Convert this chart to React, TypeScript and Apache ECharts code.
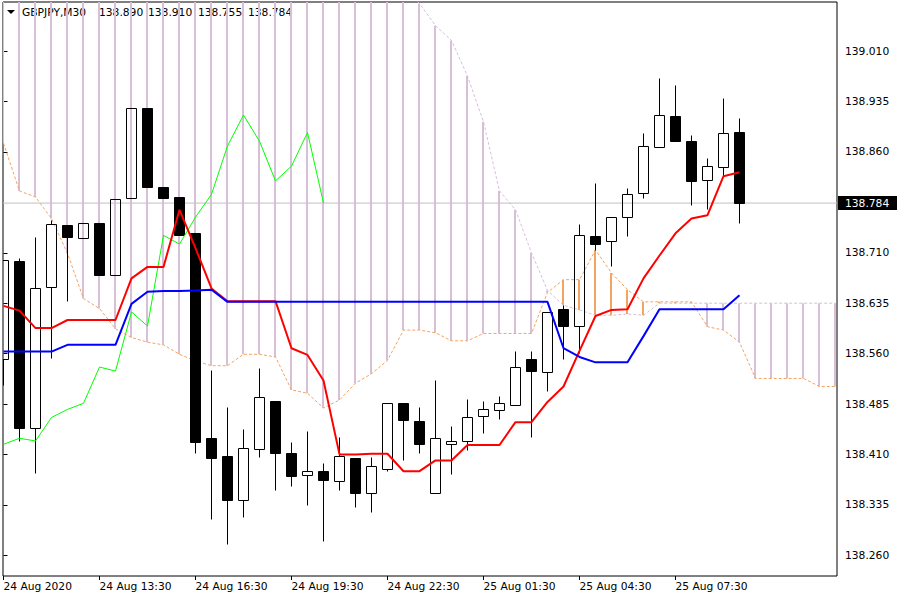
import React, { useEffect, useRef } from "react";
import * as echarts from "echarts";

const symbolTitle = "GBPJPY,M30";
const timeLabels = ["24 Aug 2020", "24 Aug 13:30", "24 Aug 16:30", "24 Aug 19:30", "24 Aug 22:30", "25 Aug 01:30", "25 Aug 04:30", "25 Aug 07:30"];
const timeLabelBars = [0, 6, 12, 18, 24, 30, 36, 42];
const priceTicks = [138.26, 138.335, 138.41, 138.485, 138.56, 138.635, 138.71, 138.86, 138.935, 139.01];

const candleOpen = [138.552, 138.698, 138.450, 138.659, 138.751, 138.732, 138.755, 138.677, 138.791, 138.925, 138.808, 138.793, 138.739, 138.434, 138.407, 138.342, 138.418, 138.489, 138.412, 138.379, 138.385, 138.370, 138.404, 138.352, 138.389, 138.486, 138.459, 138.352, 138.425, 138.430, 138.467, 138.476, 138.483, 138.552, 138.532, 138.626, 138.601, 138.735, 138.727, 138.763, 138.799, 138.867, 138.913, 138.876, 138.818, 138.837, 138.890];
const candleHigh = [138.700, 138.702, 138.733, 138.759, 138.751, 138.755, 138.755, 138.790, 138.925, 138.925, 138.808, 138.793, 138.739, 138.535, 138.480, 138.448, 138.538, 138.489, 138.428, 138.445, 138.397, 138.436, 138.404, 138.406, 138.486, 138.486, 138.480, 138.520, 138.453, 138.492, 138.489, 138.497, 138.564, 138.564, 138.622, 138.632, 138.753, 138.814, 138.763, 138.806, 138.888, 138.970, 138.959, 138.886, 138.851, 138.940, 138.910];
const candleLow = [138.514, 138.430, 138.382, 138.553, 138.638, 138.732, 138.677, 138.677, 138.791, 138.808, 138.791, 138.736, 138.412, 138.314, 138.276, 138.317, 138.406, 138.357, 138.363, 138.334, 138.281, 138.357, 138.331, 138.325, 138.385, 138.401, 138.412, 138.352, 138.381, 138.416, 138.442, 138.462, 138.483, 138.436, 138.504, 138.552, 138.561, 138.714, 138.690, 138.735, 138.791, 138.867, 138.876, 138.781, 138.775, 138.825, 138.755];
const candleClose = [138.700, 138.449, 138.657, 138.753, 138.733, 138.755, 138.677, 138.790, 138.925, 138.808, 138.791, 138.736, 138.428, 138.404, 138.342, 138.419, 138.495, 138.412, 138.378, 138.386, 138.372, 138.407, 138.352, 138.392, 138.486, 138.461, 138.425, 138.434, 138.430, 138.465, 138.477, 138.486, 138.540, 138.534, 138.622, 138.601, 138.736, 138.723, 138.763, 138.797, 138.869, 138.915, 138.876, 138.817, 138.839, 138.889, 138.784];

const tenkan = [138.631, 138.624, 138.598, 138.598, 138.610, 138.610, 138.610, 138.610, 138.672, 138.689, 138.689, 138.774, 138.717, 138.657, 138.638, 138.638, 138.638, 138.638, 138.568, 138.558, 138.520, 138.410, 138.410, 138.411, 138.411, 138.385, 138.385, 138.401, 138.401, 138.424, 138.424, 138.424, 138.458, 138.458, 138.488, 138.511, 138.564, 138.616, 138.625, 138.626, 138.672, 138.706, 138.739, 138.761, 138.766, 138.824, 138.830];
const kijun = [138.563, 138.563, 138.563, 138.563, 138.573, 138.573, 138.573, 138.573, 138.634, 138.652, 138.653, 138.653, 138.654, 138.655, 138.637, 138.637, 138.637, 138.637, 138.637, 138.637, 138.637, 138.637, 138.637, 138.637, 138.637, 138.637, 138.637, 138.637, 138.637, 138.637, 138.637, 138.637, 138.637, 138.637, 138.637, 138.568, 138.555, 138.547, 138.547, 138.547, 138.586, 138.626, 138.626, 138.626, 138.626, 138.626, 138.647];
const chikou = [138.425, 138.434, 138.430, 138.465, 138.477, 138.486, 138.540, 138.534, 138.622, 138.601, 138.736, 138.723, 138.763, 138.797, 138.869, 138.915, 138.876, 138.817, 138.839, 138.889, 138.784];
const senkouA = [138.873, 138.802, 138.793, 138.761, 138.709, 138.642, 138.627, 138.597, 138.584, 138.577, 138.573, 138.559, 138.549, 138.542, 138.542, 138.559, 138.559, 138.555, 138.506, 138.501, 138.479, 138.491, 138.516, 138.530, 138.550, 138.595, 138.595, 138.591, 138.579, 138.579, 138.590, 138.590, 138.590, 138.590, 138.651, 138.670, 138.670, 138.714, 138.680, 138.655, 138.637, 138.637, 138.637, 138.637, 138.600, 138.595, 138.577, 138.523, 138.523, 138.523, 138.523, 138.511, 138.511];
const senkouB = [139.105, 139.105, 139.105, 139.105, 139.105, 139.105, 139.105, 139.105, 139.105, 139.105, 139.105, 139.105, 139.105, 139.105, 139.105, 139.105, 139.105, 139.105, 139.105, 139.105, 139.105, 139.105, 139.105, 139.105, 139.105, 139.105, 139.081, 139.048, 139.026, 138.973, 138.905, 138.802, 138.774, 138.710, 138.654, 138.632, 138.625, 138.617, 138.617, 138.619, 138.617, 138.635, 138.635, 138.635, 138.635, 138.635, 138.635, 138.635, 138.635, 138.635, 138.635, 138.635, 138.635];

const FONT = '"DejaVu Sans", Verdana, sans-serif';
const FS = 10.7;

export default function App() {
  const ref = useRef<HTMLDivElement>(null);

  useEffect(() => {
    if (!ref.current) return;
    const chart = echarts.init(ref.current, null, { renderer: "svg" });

    const X_MIN = -0.03125;
    const X_MAX = 52.09375;
    const Y_MAX = 139.083214;
    const Y_MIN = 138.229048;

    const last = candleClose.length - 1;
    const lastClose = candleClose[last];

    const candleData = candleOpen.map((o, i) => [i, o, candleHigh[i], candleLow[i], candleClose[i]]);
    const cloudData = senkouA.map((a, i) => [i, a, senkouB[i]]);
    const toXY = (arr: number[]) => arr.map((v, i) => [i, v]);

    const headerValues = [candleOpen[last], candleHigh[last], candleLow[last], candleClose[last]];
    const headerX = [99, 148, 198, 248];

    const titleEls: any[] = [
      { id: "tri", type: "polygon", shape: { points: [[7, 10], [15, 10], [11, 14]] }, style: { fill: "#000" }, z: 1 },
      { id: "sym", type: "text", x: 22, y: 12, style: { text: symbolTitle, fill: "#000", font: `${FS}px ${FONT}`, verticalAlign: "middle", textVerticalAlign: "middle" }, z: 1 },
      ...headerValues.map((v, k) => ({
        id: "hv" + k, type: "text", x: headerX[k], y: 12,
        style: { text: v.toFixed(3), fill: "#000", font: `${FS}px ${FONT}`, verticalAlign: "middle", textVerticalAlign: "middle" }, z: 1,
      })),
    ];

    const option: any = {
      animation: false,
      backgroundColor: "#ffffff",
      textStyle: { fontFamily: FONT },
      grid: { left: 3, top: 2, width: 834, height: 574, show: true, borderColor: "#000", borderWidth: 1, backgroundColor: "transparent" },
      xAxis: {
        type: "value", min: X_MIN, max: X_MAX,
        splitLine: { show: false },
        axisLine: { show: false },
        axisTick: { show: true, customValues: timeLabelBars, length: 4, lineStyle: { color: "#000" } },
        axisLabel: {
          customValues: timeLabelBars,
          formatter: (v: number) => { const k = timeLabelBars.indexOf(Math.round(v)); return k >= 0 ? timeLabels[k] : ""; },
          align: "left", margin: 5, color: "#000", fontSize: FS, fontFamily: FONT,
        },
      },
      yAxis: {
        type: "value", position: "right", min: Y_MIN, max: Y_MAX,
        splitLine: { show: false },
        axisLine: { show: false },
        axisTick: { show: true, customValues: priceTicks, length: 4, lineStyle: { color: "#000" } },
        axisLabel: {
          customValues: priceTicks,
          formatter: (v: number) => v.toFixed(3),
          margin: 8, color: "#000", fontSize: FS, fontFamily: FONT,
        },
      },
      graphic: { elements: titleEls },
      series: [
        {
          type: "custom", name: "cloud", z: 2, silent: true, clip: true,
          data: cloudData,
          encode: { x: 0, y: [1, 2] },
          renderItem: (params: any, api: any) => {
            const i = api.value(0), a = api.value(1), b = api.value(2);
            const pa = api.coord([i, a]);
            const pb = api.coord([i, b]);
            const cs = params.coordSys;
            const y1 = Math.max(Math.min(pa[1], pb[1]), cs.y);
            const y2 = Math.min(Math.max(pa[1], pb[1]), cs.y + cs.height);
            if (y2 <= y1) return null;
            const x = Math.floor(pa[0]) - 1;
            return { type: "rect", shape: { x, y: y1, width: 2, height: y2 - y1 }, style: { fill: a > b ? "#F4A460" : "#D8BFD8" } };
          },
        },
        {
          type: "line", name: "SpanA", z: 3, silent: true, symbol: "none", showSymbol: false,
          data: toXY(senkouA), lineStyle: { color: "#F4A460", width: 1, type: [3, 2] },
        },
        {
          type: "line", name: "SpanB", z: 3, silent: true, symbol: "none", showSymbol: false,
          data: toXY(senkouB), lineStyle: { color: "#D8BFD8", width: 1, type: [3, 2] },
        },
        {
          type: "line", name: "bid", z: 2, silent: true, symbol: "none", showSymbol: false,
          data: [[X_MIN, lastClose], [X_MAX, lastClose]], lineStyle: { color: "#C0C0C0", width: 1 },
        },
        {
          type: "custom", name: "candles", z: 5, silent: true, clip: true,
          data: candleData,
          encode: { x: 0, y: [1, 2, 3, 4] },
          renderItem: (params: any, api: any) => {
            const i = api.value(0);
            const o = api.value(1), h = api.value(2), l = api.value(3), c = api.value(4);
            const po = api.coord([i, o]);
            const pc = api.coord([i, c]);
            const ph = api.coord([i, h]);
            const pl = api.coord([i, l]);
            const x = Math.floor(po[0]) + 0.5;
            const top = Math.round(Math.min(po[1], pc[1])) + 0.5;
            const bot = Math.round(Math.max(po[1], pc[1])) + 0.5;
            const yh = Math.round(ph[1]) + 0.5;
            const yl = Math.round(pl[1]) + 0.5;
            const bull = c >= o;
            const children: any[] = [];
            if (yh < top) children.push({ type: "line", shape: { x1: x, y1: yh, x2: x, y2: top }, style: { stroke: "#000", lineWidth: 1 } });
            if (yl > bot) children.push({ type: "line", shape: { x1: x, y1: bot, x2: x, y2: yl }, style: { stroke: "#000", lineWidth: 1 } });
            children.push({
              type: "rect",
              shape: { x: x - 5, y: top, width: 10, height: Math.max(bot - top, 1) },
              style: { fill: bull ? "none" : "#000", stroke: "#000", lineWidth: 1 },
            });
            return { type: "group", children };
          },
        },
        {
          type: "line", name: "Chikou", z: 6, silent: true, symbol: "none", showSymbol: false,
          data: toXY(chikou), lineStyle: { color: "#00FF00", width: 1 },
        },
        {
          type: "line", name: "Tenkan", z: 6, silent: true, symbol: "none", showSymbol: false,
          data: toXY(tenkan), lineStyle: { color: "#FF0000", width: 2 },
        },
        {
          type: "line", name: "Kijun", z: 7, silent: true, symbol: "none", showSymbol: false,
          data: toXY(kijun), lineStyle: { color: "#0000FF", width: 2 },
        },
      ],
    };

    chart.setOption(option);

    const yPix = (chart.convertToPixel({ gridIndex: 0 } as any, [0, lastClose]) as number[])[1];
    chart.setOption({
      graphic: {
        elements: [
          ...titleEls,
          { id: "plrect", type: "rect", shape: { x: 838, y: Math.round(yPix) - 7, width: 59, height: 14 }, style: { fill: "#000" }, z: 100 },
          {
            id: "pltext", type: "text", x: 845, y: Math.round(yPix),
            style: { text: lastClose.toFixed(3), fill: "#fff", font: `${FS}px ${FONT}`, verticalAlign: "middle", textVerticalAlign: "middle" }, z: 101,
          },
        ],
      },
    });

    return () => chart.dispose();
  }, []);

  return <div ref={ref} style={{ position: "fixed", left: 0, top: 0, width: 900, height: 600 }} />;
}
